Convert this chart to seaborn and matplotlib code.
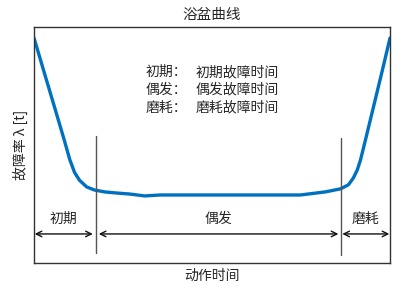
import matplotlib
matplotlib.use("Agg")
import matplotlib.pyplot as plt
import seaborn as sns
import pandas as pd

sns.set_style("white")
plt.rcParams['font.family'] = ['Noto Sans CJK SC', 'DejaVu Sans']

# Bathtub curve samples (time, failure rate)
time_vals = [0, 3.0, 6.0, 8.6, 10.0, 11.4, 12.8, 14.8, 17.0, 19.9, 22.7, 26.9, 31.1, 35.4,
             46.6, 60.7, 74.8, 81.8, 86.1, 88.3, 89.7, 90.8, 91.7, 93.1, 95.5, 97.8, 100]
rate_vals = [95.3, 80.0, 64.8, 51.5, 44.0, 38.3, 35.0, 32.2, 30.9, 30.1, 29.7, 29.2, 28.4, 28.8,
             28.8, 28.8, 28.8, 30.1, 31.4, 33.1, 36.0, 39.4, 43.6, 52.1, 67.0, 81.3, 95.3]

boundaries = [17.3, 86.1]
phase_labels = ["初期", "偶发", "磨耗"]
legend_keys = ["初期：", "偶发：", "磨耗："]
legend_desc = ["初期故障时间", "偶发故障时间", "磨耗故障时间"]

title = "浴盆曲线"
xlabel = "动作时间"
ylabel = "故障率 λ [t]"

df = pd.DataFrame({"t": time_vals, "r": rate_vals})

fig = plt.figure(figsize=(4.05, 2.89), dpi=100)
ax = fig.add_axes([0.084, 0.090, 0.879, 0.817])
sns.lineplot(data=df, x="t", y="r", ax=ax, color="#0070C0", linewidth=2.4)
for ln in ax.lines:
    ln.set_solid_joinstyle("round")
    ln.set_solid_capstyle("round")

ax.set_xlim(0, 100)
ax.set_ylim(0, 100)
ax.set_xticks([])
ax.set_yticks([])
for s in ax.spines.values():
    s.set_color("#333333")
    s.set_linewidth(1.0)

# boundary lines
ax.plot([boundaries[0]] * 2, [4.2, 53.8], color="#555555", lw=1)
ax.plot([boundaries[1]] * 2, [3.4, 53.0], color="#555555", lw=1)

# arrows
segs = [(0.2, boundaries[0] - 0.8), (boundaries[0] + 0.9, boundaries[1] - 0.6), (boundaries[1] + 0.5, 99.8)]
for (a, b), lab in zip(segs, phase_labels):
    ax.annotate("", xy=(a, 12.3), xytext=(b, 12.3),
                arrowprops=dict(arrowstyle="<->", color="#111111", lw=1.0,
                                shrinkA=0, shrinkB=0))
    ax.text((a + b) / 2, 18.6, lab, ha="center", va="center", fontsize=10)

ys = [80.9, 73.3, 65.7]
for y, k, d in zip(ys, legend_keys, legend_desc):
    ax.text(31.4, y, k, ha="left", va="center", fontsize=10)
    ax.text(45.5, y, d, ha="left", va="center", fontsize=10)

ax.set_xlabel(xlabel, fontsize=10, labelpad=4)
ax.set_ylabel(ylabel, fontsize=10, labelpad=4)
ax.set_title(title, fontsize=10.5, pad=6)

fig.savefig("out.png", dpi=100)
